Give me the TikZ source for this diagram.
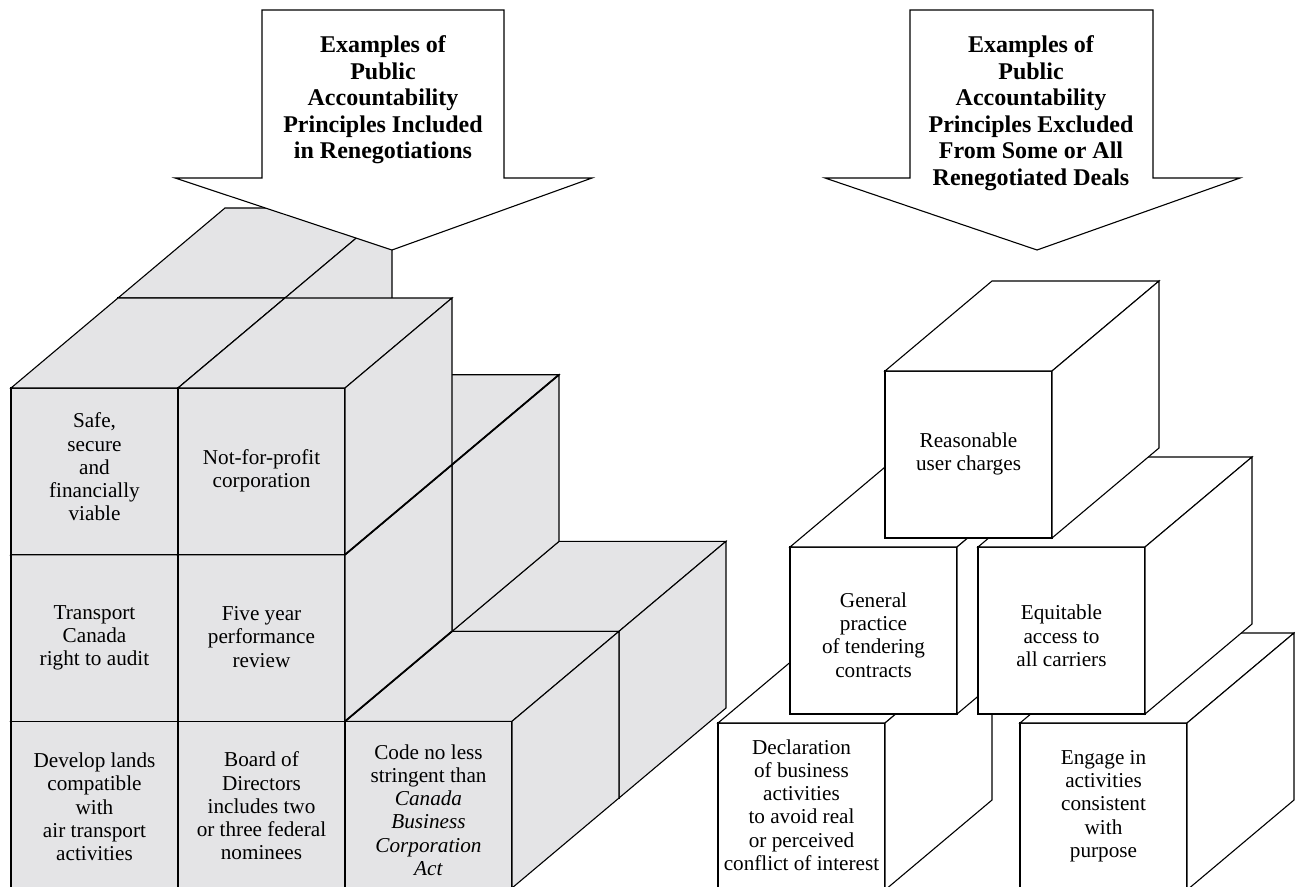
\documentclass[tikz,border=0pt]{standalone}
\usepackage{fontspec}
\setmainfont{Liberation Serif}
\definecolor{cubegray}{RGB}{228,228,230}
% x, ytop, w, h, dx, dy(up), style
\newcommand{\blockcube}[7]{%
  \draw[#7] (#1,#2) rectangle ++(#3,#4);
  \draw[#7] (#1,#2) -- ++(#5,-#6) -- ++(#3,0) -- ++(-#5,#6) -- cycle;
  \draw[#7] ({#1+#3},#2) -- ++(#5,-#6) -- ++(0,#4) -- ++(-#5,#6) -- cycle;
}
\begin{document}
\begin{tikzpicture}[x=1pt,y=-1pt,line width=1.1pt,line join=miter,
  grayface/.style={draw=black,fill=cubegray},
  whiteface/.style={draw=black,fill=white},
  bigarrow/.style={draw=black,fill=white},
  heavyedge/.style={draw=black,line width=1.8pt},
  celltext/.style={align=center,inner sep=0pt,font=\fontsize{21.2}{23.3}\selectfont},
  headtext/.style={align=center,inner sep=0pt,font=\bfseries\fontsize{24}{26.5}\selectfont}]
\useasboundingbox (0,0) rectangle (1295,886);
\clip (0,0) rectangle (1295,886);

% ---------- left block (grey cubes), back layer first ----------
\blockcube{452}{631.3}{167}{166.7}{107}{90}{grayface}
\blockcube{285}{464.7}{167}{166.7}{107}{90}{grayface}
\blockcube{118}{298}{167}{166.7}{107}{90}{grayface}
% front layer, bottom row first
\blockcube{11}{721.3}{167}{166.7}{107}{90}{grayface}
\blockcube{178}{721.3}{167}{166.7}{107}{90}{grayface}
\blockcube{345}{721.3}{167}{166.7}{107}{90}{grayface}
\blockcube{11}{554.7}{167}{166.7}{107}{90}{grayface}
\blockcube{178}{554.7}{167}{166.7}{107}{90}{grayface}
\blockcube{11}{388}{167}{166.7}{107}{90}{grayface}
\blockcube{178}{388}{167}{166.7}{107}{90}{grayface}
% heavier shared edges
\coordinate (e1) at (345,554.7);
\coordinate (e2) at (559,374.7);
\coordinate (e3) at (345,721.3);
\coordinate (e4) at (452,631.3);
\draw[heavyedge] (e1) -- (e2);
\draw[heavyedge] (e3) -- (e4);

% ---------- left arrow ----------
\draw[bigarrow] (262,10) -- (504,10) -- (504,178) -- (592,178) -- (392,250)
  -- (175,178) -- (262,178) -- cycle;
\node[headtext] (inclhead) at (383,100)
  {Examples of\\Public\\Accountability\\Principles Included\\in Renegotiations};

% ---------- left cell texts ----------
\node[celltext] (safe) at (94.5,467) {Safe,\\secure\\and\\financially\\viable};
\node[celltext] (nfp) at (261.5,471) {Not-for-profit\\corporation};
\node[celltext] (audit) at (94.5,638) {Transport\\Canada\\right to audit};
\node[celltext] (review) at (261.5,637) {Five year\\performance\\review};
\node[celltext] (lands) at (94.5,807) {Develop lands\\compatible\\with\\air transport\\activities};
\node[celltext] (board) at (261.5,806) {Board of\\Directors\\includes two\\or three federal\\nominees};
\node[celltext] (code) at (428.5,810) {Code no less\\stringent than\\\textit{Canada}\\\textit{Business}\\\textit{Corporation}\\\textit{Act}};

% ---------- right block (white cubes) ----------
\blockcube{718}{723}{167}{167}{107}{90}{whiteface}
\blockcube{1020}{723}{167}{167}{107}{90}{whiteface}
\blockcube{790}{547}{167}{167}{107}{90}{whiteface}
\blockcube{978}{547}{167}{167}{107}{90}{whiteface}
\blockcube{885}{371}{167}{167}{107}{90}{whiteface}

% ---------- right arrow ----------
\draw[bigarrow] (910,10) -- (1153,10) -- (1153,178) -- (1240,178) -- (1037,250)
  -- (825,178) -- (910,178) -- cycle;
\node[headtext] (exclhead) at (1031,113)
  {Examples of\\Public\\Accountability\\Principles Excluded\\From Some or All\\Renegotiated Deals};

% ---------- right cube texts ----------
\node[celltext] (charges) at (968.5,454) {Reasonable\\user charges};
\node[celltext] (tender) at (873.5,635) {General\\practice\\of tendering\\contracts};
\node[celltext] (access) at (1061.5,636) {Equitable\\access to\\all carriers};
\node[celltext] (declare) at (801.5,805) {Declaration\\of business\\activities\\to avoid real\\or perceived\\conflict of interest};
\node[celltext] (engage) at (1103.5,806) {Engage in\\activities\\consistent\\with\\purpose};
\end{tikzpicture}
\end{document}
